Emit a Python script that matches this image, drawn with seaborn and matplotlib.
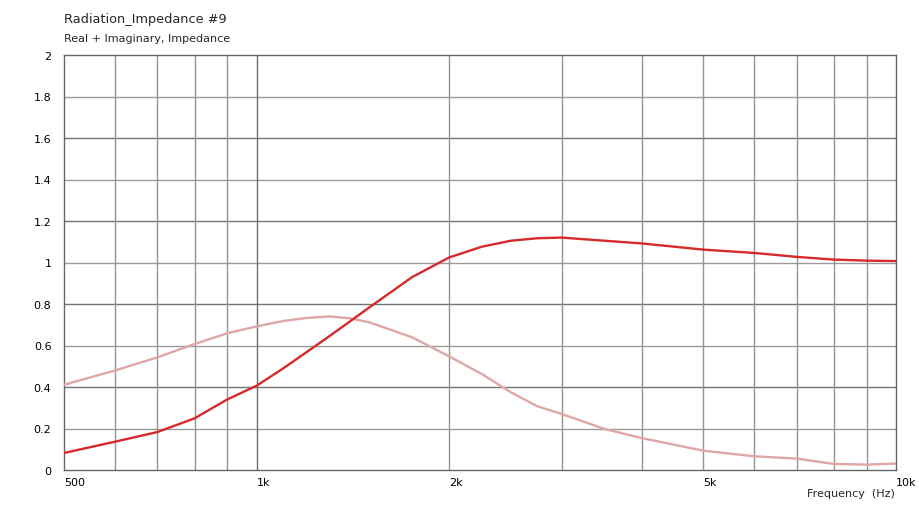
import matplotlib
matplotlib.use("Agg")
import matplotlib.pyplot as plt
import seaborn as sns
import pandas as pd
from matplotlib.ticker import FixedLocator, NullFormatter

freq = [500, 600, 700, 800, 900, 1000, 1100, 1200, 1300, 1400, 1500, 1750,
        2000, 2250, 2500, 2750, 3000, 3500, 4000, 5000, 6000, 7000, 8000, 9000, 10000]
real_part = [0.082, 0.136, 0.183, 0.249, 0.34, 0.406, 0.489, 0.57, 0.645, 0.716, 0.783, 0.929,
             1.024, 1.076, 1.105, 1.117, 1.12, 1.105, 1.092, 1.062, 1.046, 1.027, 1.014, 1.009, 1.007]
imag_part = [0.411, 0.479, 0.543, 0.607, 0.659, 0.692, 0.718, 0.733, 0.74, 0.731, 0.712, 0.64,
             0.548, 0.463, 0.374, 0.307, 0.27, 0.198, 0.154, 0.093, 0.066, 0.055, 0.029, 0.026, 0.031]

x_tick_values = [500, 1000, 2000, 5000, 10000]
x_tick_labels = ["500", "1k", "2k", "5k", "10k"]
x_grid_values = [600, 700, 800, 900, 1000, 2000, 3000, 4000, 5000, 6000, 7000, 8000, 9000]
x_minor_ticks = [1500, 2500, 3500, 4500]
y_tick_values = [0, 0.2, 0.4, 0.6, 0.8, 1.0, 1.2, 1.4, 1.6, 1.8, 2.0]
y_tick_labels = ["0", "0.2", "0.4", "0.6", "0.8", "1", "1.2", "1.4", "1.6", "1.8", "2"]

title = "Radiation_Impedance #9"
subtitle = "Real + Imaginary, Impedance"
x_label = "Frequency  (Hz)"

sns.set_style("white")
plt.rcParams['font.family'] = ['DejaVu Sans']

df = pd.DataFrame({
    "freq": freq * 2,
    "value": imag_part + real_part,
    "series": ["Imaginary"] * len(freq) + ["Real"] * len(freq),
})

fig = plt.figure(figsize=(9.19, 5.06), dpi=100)
ax = fig.add_axes([64 / 919, 1 - 471 / 506, (896 - 64) / 919, (471 - 56) / 506])

# grid
for i, yv in enumerate(y_tick_values[1:-1], start=1):
    ax.axhline(yv, color="#747474" if i % 2 == 0 else "#9a9a9a", lw=1, zorder=0)
for xv in x_grid_values:
    ax.axvline(xv, color="#6e6e6e" if xv == 1000 else "#949494", lw=1, zorder=0)

sns.lineplot(data=df, x="freq", y="value", hue="series",
             palette={"Imaginary": "#e0a6a6", "Real": "#d62a2a"},
             linewidth=1.7, legend=False, ax=ax, zorder=3)

ax.set_xscale("log")
ax.set_xlim(500, 10000)
ax.set_ylim(0, 2)

ax.xaxis.set_major_locator(FixedLocator(x_tick_values))
ax.set_xticklabels(x_tick_labels, ha="left")
ax.xaxis.set_minor_locator(FixedLocator(x_minor_ticks))
ax.xaxis.set_minor_formatter(NullFormatter())
ax.tick_params(axis="x", which="major", length=0, pad=5, labelsize=8, colors="black")
ax.tick_params(axis="x", which="minor", length=3, width=1, direction="in", color="#888888")
ax.set_yticks(y_tick_values)
ax.set_yticklabels(y_tick_labels)
ax.tick_params(axis="y", length=0, pad=9, labelsize=8, colors="black")

for s in ax.spines.values():
    s.set_visible(True)
    s.set_color("#666666")
    s.set_linewidth(1)

ax.set_xlabel("")
ax.set_ylabel("")

fig.text(64 / 919, 1 - 20 / 506, title, fontsize=9.3, ha="left", va="center")
fig.text(64 / 919, 1 - 39 / 506, subtitle, fontsize=8, ha="left", va="center")
fig.text(895 / 919, 1 - 494 / 506, x_label, fontsize=8, ha="right", va="center")

fig.savefig("out.png", dpi=100)
